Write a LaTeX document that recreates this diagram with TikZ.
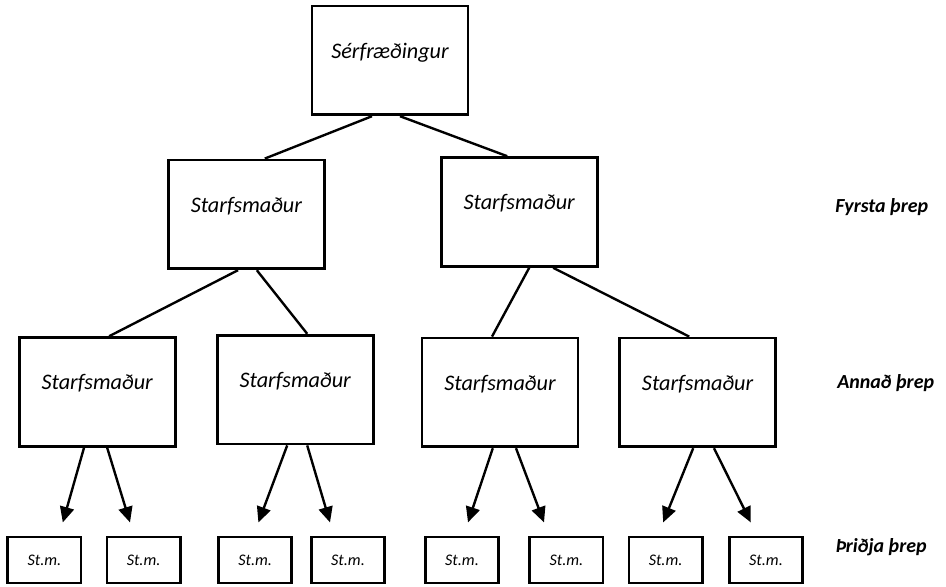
\documentclass[tikz,border=0pt]{standalone}
\usepackage{fontspec}
\setmainfont{Carlito}
\usetikzlibrary{arrows.meta}

\begin{document}
\begin{tikzpicture}[
    rolebox/.style={rectangle, draw=black, line width=2pt, minimum width=3.9cm, minimum height=2.72cm,
      inner sep=0pt, text depth=14pt, font=\fontsize{15.8}{18}\selectfont\itshape},
    smallbox/.style={rectangle, draw=black, line width=2pt, minimum width=1.83cm, minimum height=1.15cm,
      inner sep=0pt, font=\fontsize{11.5}{13}\selectfont\itshape},
    link/.style={draw=black, line width=1.7pt},
    pointer/.style={link, -{Triangle[width=10pt,length=11pt]}},
    lbl/.style={anchor=west, inner sep=0pt, font=\fontsize{14.2}{17}\selectfont\bfseries\itshape},
  ]

  \useasboundingbox (0,0) rectangle (23.65,14.65);

  % ---- the expert at the top
  \node[rolebox] (top) at (9.75,13.14) {Sérfræðingur};

  % ---- first level
  \node[rolebox] (f1) at (6.16,9.29) {Starfsmaður};
  \node[rolebox] (f2) at (12.98,9.35) {Starfsmaður};

  % ---- second level
  \foreach \i/\x/\y in {1/2.43/4.85, 2/7.38/4.91, 3/12.5/4.84, 4/17.44/4.84}
    \node[rolebox] (s\i) at (\x,\y) {Starfsmaður};

  % ---- third level
  \foreach \i/\x in {1/1.11, 2/3.59, 3/6.38, 4/8.70, 5/11.55, 6/14.16, 7/16.64, 8/19.15}
    \node[smallbox] (t\i) at (\x,0.65) {St.m.};

  % ---- plain links between the upper levels
  \draw[link] ([xshift=-0.45cm]top.south) -- ([xshift=0.46cm]f1.north);
  \draw[link] ([xshift=0.25cm]top.south) -- ([xshift=-0.3cm]f2.north);
  \foreach \p/\c/\ps/\cs in {f1/s1/-0.21/0.3, f1/s2/0.26/0.3, f2/s3/0.25/-0.2, f2/s4/0.85/-0.21}
    \draw[link] ([xshift=\ps cm]\p.south) -- ([xshift=\cs cm]\c.north);

  % ---- arrows down to the third level
  \foreach \p/\c/\ps/\cs in {s1/t1/-0.33/0.46, s1/t2/0.25/-0.34, s2/t3/-0.2/0.08, s2/t4/0.3/-0.45,
      s3/t5/-0.18/0.15, s3/t6/0.4/-0.56, s4/t7/-0.11/-0.06, s4/t8/0.41/-0.38}
    \draw[pointer] ([xshift=\ps cm]\p.south) -- ([xshift=\cs cm, yshift=0.33cm]\c.north);

  % ---- level names
  \node[lbl] (lv1) at (20.875,9.475) {Fyrsta þrep};
  \node[lbl] (lv2) at (20.925,5.075) {Annað þrep};
  \node[lbl] (lv3) at (20.875,0.975) {Þriðja þrep};

\end{tikzpicture}
\end{document}
